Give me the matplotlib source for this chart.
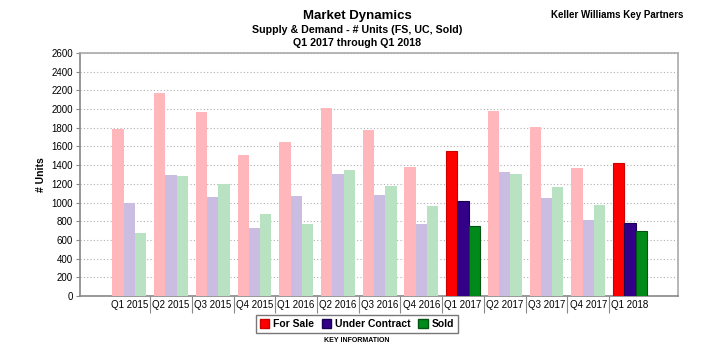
import numpy as np
from matplotlib import pyplot as plt
from matplotlib.patches import Patch

# quarters and values
quarters = ['Q1 2015', 'Q2 2015', 'Q3 2015', 'Q4 2015', 'Q1 2016', 'Q2 2016', 'Q3 2016',
            'Q4 2016', 'Q1 2017', 'Q2 2017', 'Q3 2017', 'Q4 2017', 'Q1 2018']
for_sale = [1790, 2172, 1969, 1505, 1651, 2015, 1776, 1380, 1551, 1979, 1805, 1373, 1427]
under_contract = [995, 1295, 1063, 728, 1066, 1305, 1077, 767, 1013, 1323, 1045, 817, 781]
sold = [678, 1280, 1195, 874, 767, 1345, 1177, 959, 745, 1302, 1163, 970, 695]
highlight = ['Q1 2017', 'Q1 2018']

bright = ['#ff0000', '#330088', '#008a1a']
edges = ['#cc0000', '#1a0055', '#005510']
faded = ['#ffb7bc', '#cbbde1', '#b8e2c2']

plt.rcParams['font.family'] = ['Liberation Sans', 'DejaVu Sans']

fig = plt.figure(figsize=(7.14, 3.52), dpi=100)
ax = fig.add_axes([80 / 714, 56 / 352, 598 / 714, 243 / 352])

x = np.arange(len(quarters))
w = 0.27
series = [for_sale, under_contract, sold]
for k, vals in enumerate(series):
    for i, q in enumerate(quarters):
        if q in highlight:
            ax.bar(x[i] + (k - 1) * w, vals[i], w, color=bright[k],
                   edgecolor=edges[k], linewidth=0.8, zorder=3)
        else:
            ax.bar(x[i] + (k - 1) * w, vals[i], w, color=faded[k],
                   edgecolor='none', zorder=3)

ax.set_xlim(-1.18, 13.15)
ax.set_ylim(0, 2600)
ax.set_yticks(np.arange(0, 2601, 200))
ax.tick_params(axis='y', labelsize=7, length=3, color='#888888', pad=2)
ax.yaxis.grid(True, linestyle=(0, (1, 2)), color='#b0b0b0', linewidth=0.8, zorder=0)

ax.set_xticks(x)
ax.set_xticklabels(quarters, fontsize=7)
ax.tick_params(axis='x', length=0, pad=3)
ax.set_xticks(x[:-1] + 0.5, minor=True)
ax.tick_params(axis='x', which='minor', length=12, color='#888888', width=0.8)

for s in ax.spines.values():
    s.set_color('#aaaaaa')
    s.set_linewidth(1.2)
ax.spines['left'].set_color('#888888')
ax.spines['bottom'].set_color('#888888')

ax.set_ylabel('# Units', fontsize=7.5, fontweight='bold', labelpad=4)

fig.text(0.5, 1 - 16 / 352, 'Market Dynamics', ha='center', va='center',
         fontsize=9.5, fontweight='bold')
fig.text(0.5, 1 - 30 / 352, 'Supply & Demand - # Units (FS, UC, Sold)', ha='center',
         va='center', fontsize=7.7, fontweight='bold')
fig.text(0.5, 1 - 43 / 352, 'Q1 2017 through Q1 2018', ha='center', va='center',
         fontsize=7.7, fontweight='bold')
fig.text(683 / 714, 1 - 15 / 352, 'Keller Williams Key Partners', ha='right',
         va='center', fontsize=7, fontweight='bold')

handles = [Patch(facecolor=bright[k], edgecolor=edges[k]) for k in range(3)]
leg = fig.legend(handles, ['For Sale', 'Under Contract', 'Sold'], loc='center',
                 bbox_to_anchor=(0.5, 1 - 324 / 352), ncol=3, frameon=True,
                 fancybox=False, handlelength=0.9, handleheight=0.9,
                 handletextpad=0.4, columnspacing=0.7, borderpad=0.35,
                 prop={'weight': 'bold', 'size': 7.5})
leg.get_frame().set_edgecolor('#555555')
leg.get_frame().set_linewidth(1.0)
fig.text(0.5, 1 - 341 / 352, 'KEY INFORMATION', ha='center', va='center',
         fontsize=5, fontweight='bold')

plt.savefig('out.png', dpi=100)
